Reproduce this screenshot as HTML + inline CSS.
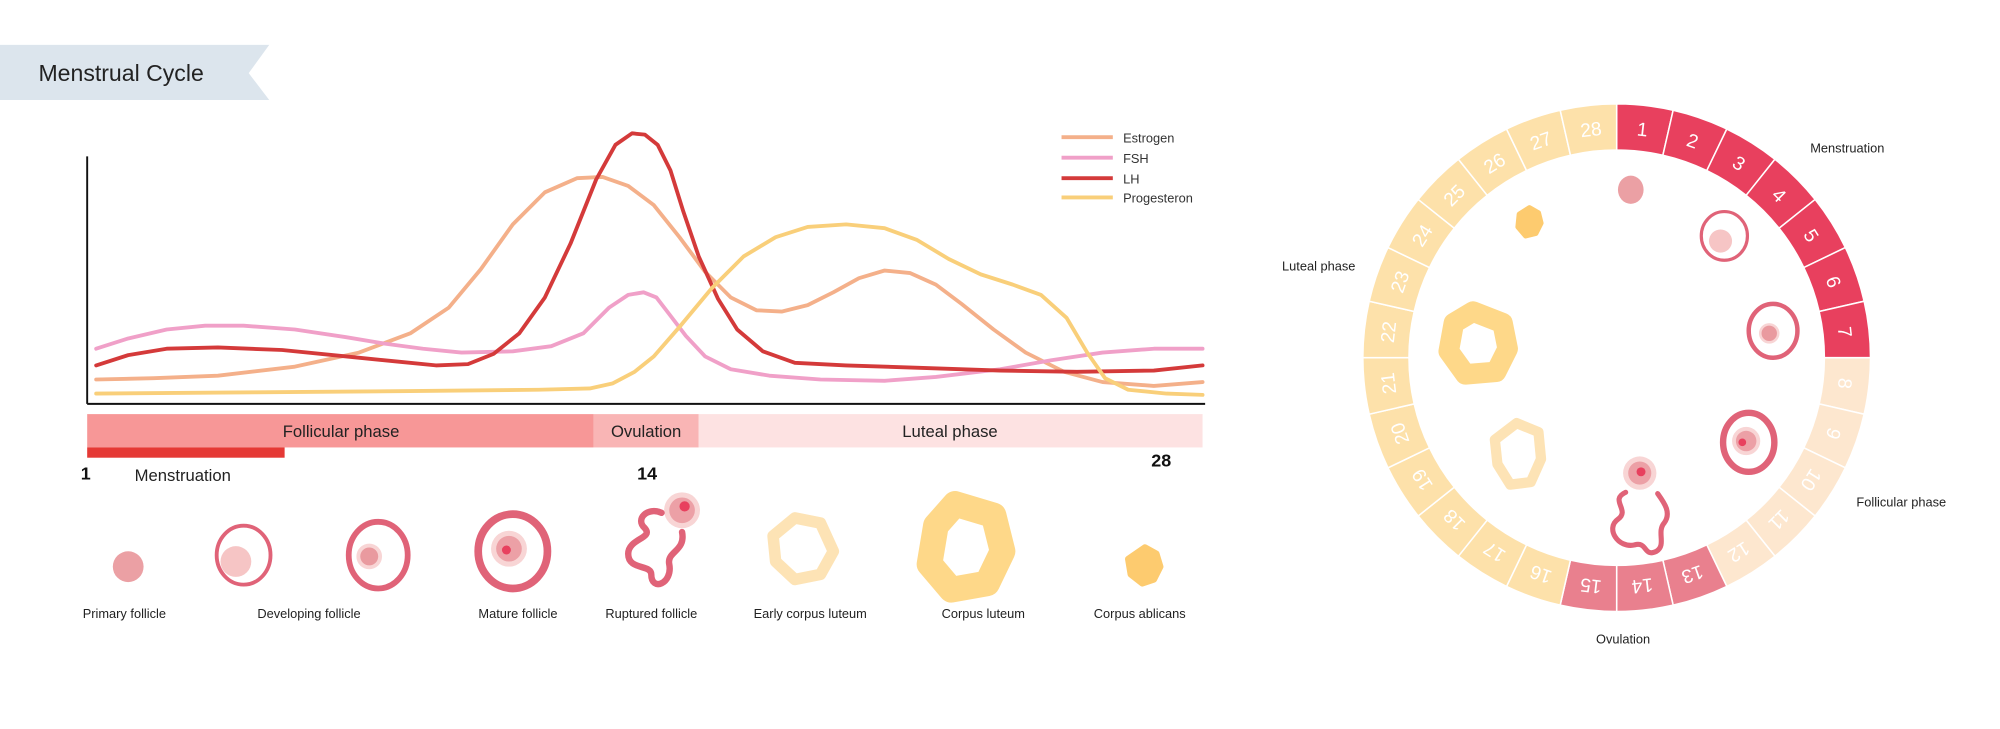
<!DOCTYPE html>
<html><head><meta charset="utf-8"><style>
html,body{margin:0;padding:0;background:#fff;}
svg{display:block;}
text{font-family:"Liberation Sans",sans-serif;}
</style></head><body>
<svg width="2000" height="729" viewBox="0 0 1560 568.6" xmlns="http://www.w3.org/2000/svg">
<rect width="1560" height="569" fill="#fff"/>
<!-- title -->
<polygon points="0,35 210,35 194,57 210,78 0,78" fill="#dce5ed"/>
<text x="30" y="63" font-size="18" fill="#222">Menstrual Cycle</text>
<!-- axes -->
<line x1="68" y1="122" x2="68" y2="315" stroke="#111" stroke-width="1.5"/>
<line x1="68" y1="315" x2="940" y2="315" stroke="#111" stroke-width="1.5"/>
<g fill="none" stroke-width="3" stroke-linejoin="round" stroke-linecap="round">
<polyline stroke="#f4b08a" points="75,296 120,295 170,293 230,286 280,275 320,260 350,240 375,210 400,175 425,150 450,139 470,138 490,145 510,160 530,185 550,212 570,232 590,242 610,243 630,238 650,228 670,217 690,211 710,213 730,222 750,237 775,257 800,275 830,290 860,298 900,301 938,298"/>
<polyline stroke="#f0a0c8" points="75,272 100,264 130,257 160,254 190,254 230,257 270,263 300,268 330,272 360,275 400,274 430,270 455,260 475,240 490,230 502,228 512,232 522,245 535,262 550,278 570,288 600,293 640,296 690,297 730,294 780,288 820,281 860,275 900,272 938,272"/>
<polyline stroke="#d43a3a" points="75,285 100,277 130,272 170,271 220,273 270,278 310,282 340,285 365,284 385,276 405,260 425,232 445,190 465,140 480,113 493,104 503,105 513,113 523,133 533,165 545,200 560,233 575,257 595,274 620,283 660,285 720,287 780,289 840,290 900,289 938,285"/>
<polyline stroke="#f9cf7a" points="75,307 200,306 320,305 420,304 460,303 478,299 495,290 510,278 530,255 555,225 580,200 605,185 630,177 660,175 690,178 715,187 740,202 765,214 790,222 812,230 832,248 848,275 862,295 880,304 910,307 938,308"/>
</g>
<!-- legend -->
<g stroke-width="3"><line x1="828" y1="107" x2="868" y2="107" stroke="#f4b08a"/><line x1="828" y1="123" x2="868" y2="123" stroke="#f0a0c8"/><line x1="828" y1="139" x2="868" y2="139" stroke="#d43a3a"/><line x1="828" y1="154" x2="868" y2="154" stroke="#f9cf7a"/></g>
<g font-size="10" fill="#333"><text x="876" y="111">Estrogen</text><text x="876" y="127">FSH</text><text x="876" y="143">LH</text><text x="876" y="158">Progesteron</text></g>
<!-- phase bar -->
<rect x="68" y="323" width="395" height="26" fill="#f79797"/>
<rect x="463" y="323" width="82" height="26" fill="#f9b5b5"/>
<rect x="545" y="323" width="393" height="26" fill="#fde2e2"/>
<rect x="68" y="349" width="154" height="8" fill="#e53935"/>
<g font-size="13" fill="#222" text-anchor="middle"><text x="266" y="341">Follicular phase</text><text x="504" y="341">Ovulation</text><text x="741" y="341">Luteal phase</text></g>
<g font-size="14" font-weight="bold" fill="#111"><text x="63" y="374">1</text><text x="497" y="374">14</text><text x="898" y="364">28</text></g>
<text x="105" y="375" font-size="13" fill="#222">Menstruation</text>
<!-- bottom icons -->
<circle cx="100" cy="442" r="12" fill="#eba0a4"/>
<ellipse cx="190" cy="433" rx="21" ry="23" fill="none" stroke="#e06378" stroke-width="3"/>
<circle cx="184" cy="438" r="12" fill="#f6c5c5"/>
<ellipse cx="295" cy="433" rx="23" ry="26" fill="none" stroke="#e06378" stroke-width="4.5"/>
<circle cx="288" cy="434" r="10" fill="#f8d5d5"/><circle cx="288" cy="434" r="7" fill="#e99a9f"/>
<ellipse cx="400" cy="430" rx="27" ry="29" fill="none" stroke="#e06378" stroke-width="6"/>
<circle cx="397" cy="428" r="14" fill="#f8d5d5"/><circle cx="397" cy="428" r="10" fill="#eca0a6"/><circle cx="395" cy="429" r="3.5" fill="#e8405e"/>
<circle cx="532" cy="398" r="14" fill="#f8d5d5"/><circle cx="532" cy="398" r="10" fill="#eca0a6"/><circle cx="534" cy="395" r="4" fill="#e8405e"/>
<path d="M516,400 C505,395 495,405 503,412 C510,420 490,420 490,432 C490,445 508,440 508,448 C508,462 525,455 522,440 C520,430 535,430 532,415" fill="none" stroke="#e06378" stroke-width="5" stroke-linecap="round"/>
<polygon points="620,404 640,408 650,430 640,448 620,452 605,438 603,418" fill="none" stroke="#fde3b5" stroke-width="9" stroke-linejoin="round"/>
<polygon points="745,393 775,402 782,430 770,455 742,460 725,440 730,410" fill="#fff" stroke="#fed889" stroke-width="20" stroke-linejoin="round"/>
<polygon points="893,427 902,432 905,442 900,452 891,455 882,448 880,436" fill="#fdcb6f" stroke="#fdcb6f" stroke-width="5" stroke-linejoin="round"/>
<g font-size="10" fill="#222" text-anchor="middle">
<text x="97" y="482">Primary follicle</text><text x="241" y="482">Developing follicle</text><text x="404" y="482">Mature follicle</text><text x="508" y="482">Ruptured follicle</text><text x="632" y="482">Early corpus luteum</text><text x="767" y="482">Corpus luteum</text><text x="889" y="482">Corpus ablicans</text>
</g>
<!-- ring -->
<g transform="translate(1261,279)">
<g stroke="#fff" stroke-width="1.2">
<path id="s" d="M0,-198 A198,198 0 0 1 44.06,-193.03 L36.05,-157.93 A162,162 0 0 0 0,-162 Z" fill="#e8405e"/>
<use href="#s" transform="rotate(12.857)"/><use href="#s" transform="rotate(25.714)"/><use href="#s" transform="rotate(38.571)"/><use href="#s" transform="rotate(51.429)"/><use href="#s" transform="rotate(64.286)"/><use href="#s" transform="rotate(77.143)"/>
</g>
<g stroke="#fff" stroke-width="1.2" fill="#fde7cf">
<path d="M0,-198 A198,198 0 0 1 44.06,-193.03 L36.05,-157.93 A162,162 0 0 0 0,-162 Z" transform="rotate(90)"/>
<path d="M0,-198 A198,198 0 0 1 44.06,-193.03 L36.05,-157.93 A162,162 0 0 0 0,-162 Z" transform="rotate(102.857)"/>
<path d="M0,-198 A198,198 0 0 1 44.06,-193.03 L36.05,-157.93 A162,162 0 0 0 0,-162 Z" transform="rotate(115.714)"/>
<path d="M0,-198 A198,198 0 0 1 44.06,-193.03 L36.05,-157.93 A162,162 0 0 0 0,-162 Z" transform="rotate(128.571)"/>
<path d="M0,-198 A198,198 0 0 1 44.06,-193.03 L36.05,-157.93 A162,162 0 0 0 0,-162 Z" transform="rotate(141.429)"/>
</g>
<g stroke="#fff" stroke-width="1.2" fill="#e9808e">
<path d="M0,-198 A198,198 0 0 1 44.06,-193.03 L36.05,-157.93 A162,162 0 0 0 0,-162 Z" transform="rotate(154.286)"/>
<path d="M0,-198 A198,198 0 0 1 44.06,-193.03 L36.05,-157.93 A162,162 0 0 0 0,-162 Z" transform="rotate(167.143)"/>
<path d="M0,-198 A198,198 0 0 1 44.06,-193.03 L36.05,-157.93 A162,162 0 0 0 0,-162 Z" transform="rotate(180)"/>
</g>
<g stroke="#fff" stroke-width="1.2" fill="#fde1aa">
<path id="y" d="M0,-198 A198,198 0 0 1 44.06,-193.03 L36.05,-157.93 A162,162 0 0 0 0,-162 Z" transform="rotate(192.857)"/>
<path d="M0,-198 A198,198 0 0 1 44.06,-193.03 L36.05,-157.93 A162,162 0 0 0 0,-162 Z" transform="rotate(205.714)"/>
<path d="M0,-198 A198,198 0 0 1 44.06,-193.03 L36.05,-157.93 A162,162 0 0 0 0,-162 Z" transform="rotate(218.571)"/>
<path d="M0,-198 A198,198 0 0 1 44.06,-193.03 L36.05,-157.93 A162,162 0 0 0 0,-162 Z" transform="rotate(231.429)"/>
<path d="M0,-198 A198,198 0 0 1 44.06,-193.03 L36.05,-157.93 A162,162 0 0 0 0,-162 Z" transform="rotate(244.286)"/>
<path d="M0,-198 A198,198 0 0 1 44.06,-193.03 L36.05,-157.93 A162,162 0 0 0 0,-162 Z" transform="rotate(257.143)"/>
<path d="M0,-198 A198,198 0 0 1 44.06,-193.03 L36.05,-157.93 A162,162 0 0 0 0,-162 Z" transform="rotate(270)"/>
<path d="M0,-198 A198,198 0 0 1 44.06,-193.03 L36.05,-157.93 A162,162 0 0 0 0,-162 Z" transform="rotate(282.857)"/>
<path d="M0,-198 A198,198 0 0 1 44.06,-193.03 L36.05,-157.93 A162,162 0 0 0 0,-162 Z" transform="rotate(295.714)"/>
<path d="M0,-198 A198,198 0 0 1 44.06,-193.03 L36.05,-157.93 A162,162 0 0 0 0,-162 Z" transform="rotate(308.571)"/>
<path d="M0,-198 A198,198 0 0 1 44.06,-193.03 L36.05,-157.93 A162,162 0 0 0 0,-162 Z" transform="rotate(321.429)"/>
<path d="M0,-198 A198,198 0 0 1 44.06,-193.03 L36.05,-157.93 A162,162 0 0 0 0,-162 Z" transform="rotate(334.286)"/>
<path d="M0,-198 A198,198 0 0 1 44.06,-193.03 L36.05,-157.93 A162,162 0 0 0 0,-162 Z" transform="rotate(347.143)"/>
</g>
<g fill="#fff" font-size="15" text-anchor="middle">
<text transform="rotate(6.43) translate(0,-174)">1</text>
<text transform="rotate(19.29) translate(0,-174)">2</text>
<text transform="rotate(32.14) translate(0,-174)">3</text>
<text transform="rotate(45) translate(0,-174)">4</text>
<text transform="rotate(57.86) translate(0,-174)">5</text>
<text transform="rotate(70.71) translate(0,-174)">6</text>
<text transform="rotate(83.57) translate(0,-174)">7</text>
<text transform="rotate(96.43) translate(0,-174)">8</text>
<text transform="rotate(109.29) translate(0,-174)">9</text>
<text transform="rotate(122.14) translate(0,-174)">10</text>
<text transform="rotate(135) translate(0,-174)">11</text>
<text transform="rotate(147.86) translate(0,-174)">12</text>
<text transform="rotate(160.71) translate(0,-174)">13</text>
<text transform="rotate(173.57) translate(0,-174)">14</text>
<text transform="rotate(186.43) translate(0,-174)">15</text>
<text transform="rotate(199.29) translate(0,-174)">16</text>
<text transform="rotate(212.14) translate(0,-174)">17</text>
<text transform="rotate(225) translate(0,-174)">18</text>
<text transform="rotate(237.86) translate(0,-174)">19</text>
<text transform="rotate(250.71) translate(0,-174)">20</text>
<text transform="rotate(263.57) translate(0,-174)">21</text>
<text transform="rotate(276.43) translate(0,-174)">22</text>
<text transform="rotate(289.29) translate(0,-174)">23</text>
<text transform="rotate(302.14) translate(0,-174)">24</text>
<text transform="rotate(315) translate(0,-174)">25</text>
<text transform="rotate(327.86) translate(0,-174)">26</text>
<text transform="rotate(340.71) translate(0,-174)">27</text>
<text transform="rotate(353.57) translate(0,-174)">28</text>
</g>
</g>
<g font-size="10" fill="#222">
<text x="1412" y="119">Menstruation</text><text x="1000" y="211">Luteal phase</text><text x="1448" y="395">Follicular phase</text><text x="1266" y="502" text-anchor="middle">Ovulation</text>
</g>
<!-- inner icons -->
<ellipse cx="1272" cy="148" rx="10" ry="11" fill="#eba0a4"/>
<ellipse cx="1345" cy="184" rx="18" ry="19" fill="none" stroke="#e06378" stroke-width="2.5"/>
<circle cx="1342" cy="188" r="9" fill="#f6c5c5"/>
<ellipse cx="1383" cy="258" rx="19" ry="21" fill="none" stroke="#e06378" stroke-width="3.5"/>
<circle cx="1380" cy="260" r="8" fill="#f8d5d5"/><circle cx="1380" cy="260" r="6" fill="#e99a9f"/>
<ellipse cx="1364" cy="345" rx="20" ry="23" fill="none" stroke="#e06378" stroke-width="5"/>
<circle cx="1362" cy="344" r="11" fill="#f8d5d5"/><circle cx="1362" cy="344" r="8" fill="#eca0a6"/><circle cx="1359" cy="345" r="3" fill="#e8405e"/>
<circle cx="1279" cy="369" r="13" fill="#f8d5d5"/><circle cx="1279" cy="369" r="9" fill="#eca0a6"/><circle cx="1280" cy="368" r="3.5" fill="#e8405e"/>
<path d="M1268,384 C1255,390 1272,398 1262,405 C1252,412 1262,428 1275,425 C1285,422 1282,435 1292,430 C1300,425 1292,415 1298,408 C1304,400 1298,392 1293,385" fill="none" stroke="#e06378" stroke-width="4" stroke-linecap="round"/>
<polygon points="1183,330 1200,337 1202,358 1194,376 1178,378 1168,362 1166,343" fill="none" stroke="#fde3b5" stroke-width="8" stroke-linejoin="round"/>
<polygon points="1149,243 1172,252 1176,272 1167,290 1143,292 1130,274 1134,252" fill="#fff" stroke="#fed889" stroke-width="16" stroke-linejoin="round"/>
<polygon points="1193,162 1200,166 1202,174 1198,182 1190,184 1184,177 1185,167" fill="#fdcb6f" stroke="#fdcb6f" stroke-width="4" stroke-linejoin="round"/>
</svg>
</body></html>
